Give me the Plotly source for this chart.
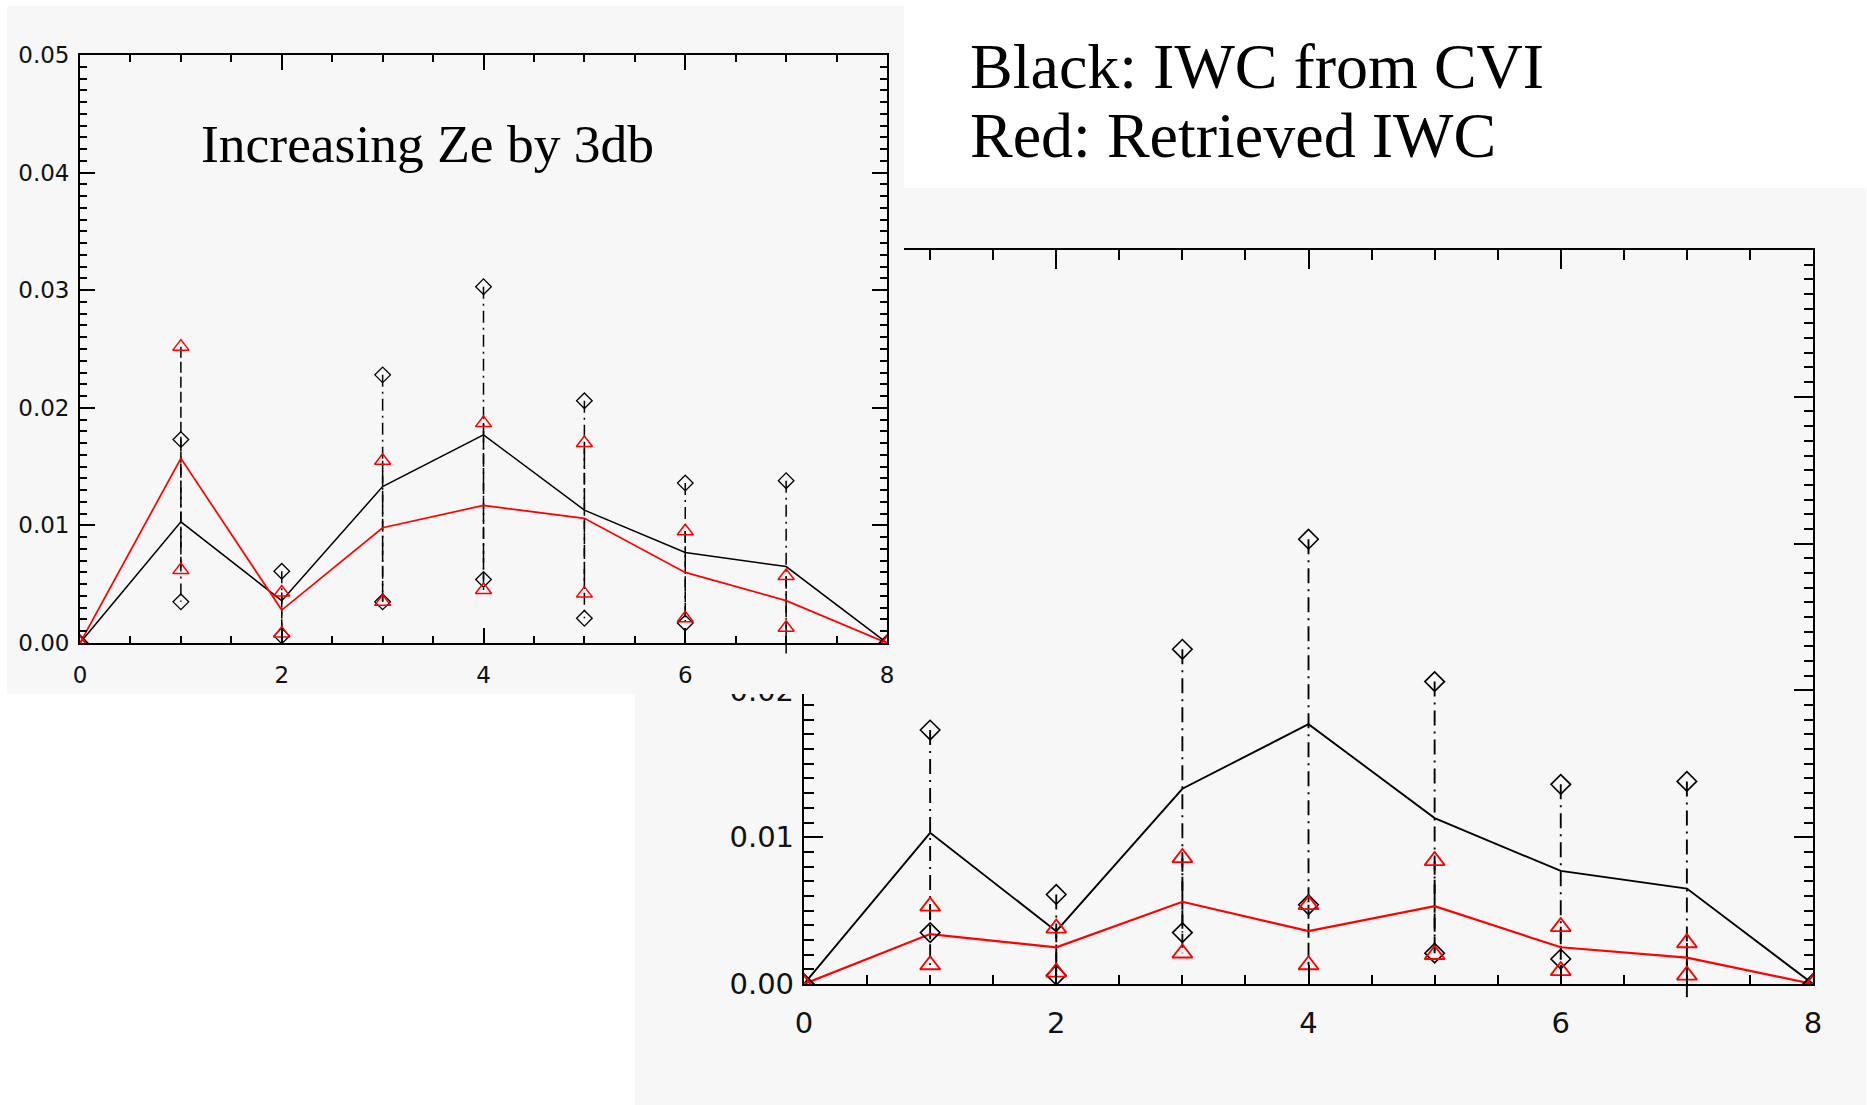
import plotly.graph_objects as go

W, H = 1867, 1105

# ---------------- data ----------------
x_bins = [0, 1, 2, 3, 4, 5, 6, 7, 8]
x_ticks = [0, 2, 4, 6, 8]
y_ticks = [0.00, 0.01, 0.02, 0.03, 0.04, 0.05]
y_range = [0.0, 0.05]

# IWC from CVI (black) - same in both panels
cvi_mean = [0, 0.0103, 0.0036, 0.0133, 0.0177, 0.0113, 0.0077, 0.0065, 0]
cvi_upper = [0, 0.0173, 0.0061, 0.0228, 0.0303, 0.0206, 0.0136, 0.0138, 0]
cvi_lower = [0, 0.0035, 0.0006, 0.0035, 0.0054, 0.0021, 0.0017, -0.0009, 0]

# Retrieved IWC with Ze increased by 3 dB (red, top-left panel)
ret3_mean = [0, 0.0157, 0.0028, 0.0098, 0.0117, 0.0106, 0.0060, 0.0036, 0]
ret3_upper = [0, 0.0252, 0.0043, 0.0155, 0.0187, 0.0170, 0.0095, 0.0057, 0]
ret3_lower = [0, 0.0062, 0.0008, 0.0035, 0.0045, 0.0042, 0.0021, 0.0013, 0]

# Retrieved IWC (red, bottom-right panel)
ret_mean = [0, 0.0034, 0.0025, 0.0056, 0.0036, 0.0053, 0.0025, 0.0018, 0]
ret_upper = [0, 0.0053, 0.0038, 0.0086, 0.0054, 0.0084, 0.0039, 0.0028, 0]
ret_lower = [0, 0.0013, 0.0008, 0.0021, 0.0013, 0.0020, 0.0009, 0.0006, 0]

inset_text = "Increasing Ze by 3db"
legend_lines = ["Black: IWC from CVI", "Red: Retrieved IWC"]

# ---------------- layout geometry (pixels) ----------------
BG = "#f7f7f7"
BR_BOX = dict(x0=804, x1=1813, y0=250, y1=984)   # bottom-right plot area
TL_BOX = dict(x0=80, x1=887, y0=55, y1=643)      # top-left plot area
TL_PANEL = dict(x0=7, x1=904, y0=6, y1=694)      # top-left gray panel
BR_PANEL = dict(x0=635, x1=1866, y0=188, y1=1105)
STRIP = 30                                       # room below the axis


def fx(px):
    return px / W


def fy(py):
    return 1 - py / H


def segments(xs, lo, hi):
    X, Y = [], []
    for x, a, b in zip(xs, lo, hi):
        if a == b:
            continue
        X += [x, x, None]
        Y += [b, a, None]
    return X, Y


fig = go.Figure()


def add_panel(n_main, n_strip, s, r_mean, r_up, r_lo):
    xa, ya = ("x", "y") if n_main == 1 else (f"x{n_main}", f"y{n_main}")
    xs_, ys_ = f"x{n_strip}", f"y{n_strip}"
    lw = 1.5 * s
    dashdot = f"{12*s:.0f}px,{5*s:.0f}px,{2*s:.0f}px,{5*s:.0f}px"
    dashed = f"{11*s:.0f}px,{4*s:.0f}px"
    common = dict(xaxis=xa, yaxis=ya, showlegend=False, hoverinfo="skip")

    X, Y = segments(x_bins, cvi_lower, cvi_upper)
    fig.add_trace(go.Scatter(x=X, y=Y, mode="lines",
                             line=dict(color="black", width=lw, dash=dashdot), **common))
    X, Y = segments(x_bins, r_lo, r_up)
    fig.add_trace(go.Scatter(x=X, y=Y, mode="lines",
                             line=dict(color="black", width=lw, dash=dashed), **common))
    # mean lines
    fig.add_trace(go.Scatter(x=x_bins, y=cvi_mean, mode="lines",
                             line=dict(color="black", width=lw), **common))
    fig.add_trace(go.Scatter(x=x_bins, y=r_mean, mode="lines",
                             line=dict(color="#ff0000", width=lw * 1.15), **common))
    # range end markers
    fig.add_trace(go.Scatter(x=x_bins + x_bins, y=cvi_upper + cvi_lower, mode="markers",
                             marker=dict(symbol="diamond-open", size=12 * s, color="black",
                                         line=dict(width=1.3 * s, color="black")), **common))
    fig.add_trace(go.Scatter(x=x_bins + x_bins, y=r_up + r_lo, mode="markers",
                             marker=dict(symbol="triangle-up-open", size=14 * s, color="#ff0000",
                                         line=dict(width=1.5 * s, color="#ff0000")), **common))
    return xs_, ys_, lw


def add_overflow(xs_, ys_, lw):
    # the part of the CVI range that runs below the x axis (unclipped in original)
    X, Y = [], []
    for x, v in zip(x_bins, cvi_lower):
        if v < 0:
            X += [x, x, None]
            Y += [0, v, None]
    fig.add_trace(go.Scatter(x=X if X else [None], y=Y if Y else [None], mode="lines",
                             line=dict(color="black", width=lw),
                             xaxis=xs_, yaxis=ys_, showlegend=False, hoverinfo="skip"))


def axis_style(s, fontsize, xstand, ystand):
    base = dict(showline=True, linecolor="black", linewidth=1.8 * s,
                mirror="ticks", ticks="inside", tickcolor="black",
                tickwidth=1.5 * s, showgrid=False, zeroline=False, automargin=False,
                tickfont=dict(family="DejaVu Sans", size=fontsize, color="#111"))
    xs = dict(base, range=[0, 8], tickvals=x_ticks, ticklen=15 * s,
              ticktext=[str(v) for v in x_ticks], ticklabelstandoff=int(xstand),
              minor=dict(dtick=0.5, ticks="inside", ticklen=7.5 * s,
                         tickwidth=1.5 * s, tickcolor="black", showgrid=False))
    ys = dict(base, range=y_range, tickvals=y_ticks, ticklen=15 * s,
              ticktext=[f"{v:.2f}" for v in y_ticks], ticklabelstandoff=int(ystand),
              minor=dict(dtick=0.001, ticks="inside", ticklen=7.5 * s,
                         tickwidth=1.5 * s, tickcolor="black", showgrid=False))
    return xs, ys


def strip_axes(box):
    per_px = (y_range[1] - y_range[0]) / (box["y1"] - box["y0"])
    xd = dict(domain=[fx(box["x0"]), fx(box["x1"])], range=[0, 8], visible=False,
              automargin=False)
    yd = dict(domain=[fy(box["y1"] + STRIP), fy(box["y1"])],
              range=[y_range[0] - STRIP * per_px, y_range[0]], visible=False,
              automargin=False)
    return xd, yd


# subplot draw order: xy (BR), x2y2 (BR overflow), x3y3 (TL cover),
# x4y4 (TL overflow), x5y5 (TL main)
sx, sy, lw = add_panel(1, 2, 1.25, ret_mean, ret_upper, ret_lower)
add_overflow(sx, sy, lw)
fig.add_trace(go.Scatter(x=[None], y=[None], xaxis="x3", yaxis="y3",
                         showlegend=False, hoverinfo="skip"))
sx, sy, lw = add_panel(5, 4, 1.0, ret3_mean, ret3_upper, ret3_lower)
add_overflow(sx, sy, lw)

xs_br, ys_br = axis_style(1.25, 29, 12, 2)
xs_tl, ys_tl = axis_style(1.0, 23, 10, 4)
bx2, by2 = strip_axes(BR_BOX)
bx4, by4 = strip_axes(TL_BOX)

fig.update_layout(
    width=W, height=H,
    margin=dict(l=0, r=0, t=0, b=0, pad=0, autoexpand=False),
    paper_bgcolor="white", plot_bgcolor=BG, hovermode=False,
    xaxis=dict(xs_br, domain=[fx(BR_BOX["x0"]), fx(BR_BOX["x1"])], anchor="y"),
    yaxis=dict(ys_br, domain=[fy(BR_BOX["y1"]), fy(BR_BOX["y0"])], anchor="x"),
    xaxis2=dict(bx2, anchor="y2"),
    yaxis2=dict(by2, anchor="x2"),
    xaxis3=dict(domain=[fx(TL_PANEL["x0"]), fx(TL_PANEL["x1"])], anchor="y3",
                visible=False, range=[0, 1], automargin=False),
    yaxis3=dict(domain=[fy(TL_PANEL["y1"]), fy(TL_PANEL["y0"])], anchor="x3",
                visible=False, range=[0, 1], automargin=False),
    xaxis4=dict(bx4, anchor="y4"),
    yaxis4=dict(by4, anchor="x4"),
    xaxis5=dict(xs_tl, domain=[fx(TL_BOX["x0"]), fx(TL_BOX["x1"])], anchor="y5"),
    yaxis5=dict(ys_tl, domain=[fy(TL_BOX["y1"]), fy(TL_BOX["y0"])], anchor="x5"),
    shapes=[dict(type="rect", xref="paper", yref="paper", layer="below",
                 x0=fx(BR_PANEL["x0"]), x1=fx(BR_PANEL["x1"]),
                 y0=fy(BR_PANEL["y1"]), y1=fy(BR_PANEL["y0"]),
                 fillcolor=BG, line=dict(width=0))],
    annotations=[
        dict(text=inset_text, xref="paper", yref="paper", x=fx(199), y=fy(144),
             xanchor="left", yanchor="middle", showarrow=False,
             font=dict(family="Liberation Serif", size=53.5, color="black")),
        dict(text=legend_lines[0], xref="paper", yref="paper", x=fx(968), y=fy(66),
             xanchor="left", yanchor="middle", showarrow=False,
             font=dict(family="Liberation Serif", size=64, color="black")),
        dict(text=legend_lines[1], xref="paper", yref="paper", x=fx(968), y=fy(135),
             xanchor="left", yanchor="middle", showarrow=False,
             font=dict(family="Liberation Serif", size=64, color="black")),
    ],
)

fig.write_html("out.html")
